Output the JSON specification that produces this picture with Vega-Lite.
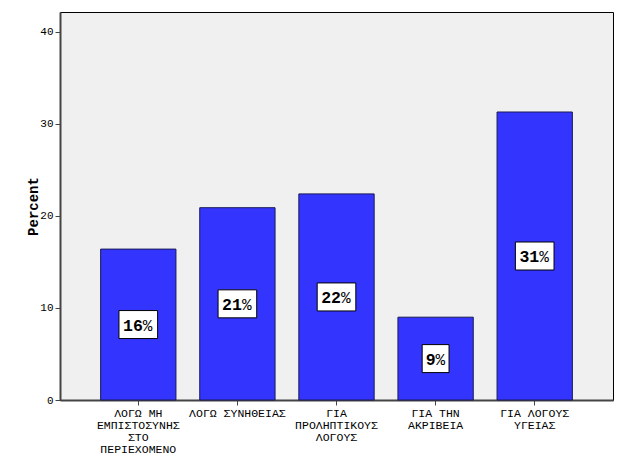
{
  "$schema": "https://vega.github.io/schema/vega-lite/v6.json",
  "width": 553,
  "height": 388,
  "autosize": {"type": "none"},
  "padding": {"left": 60, "top": 12, "right": 11, "bottom": 56},
  "background": "white",
  "config": {
    "view": {"fill": "#F0F0F0", "stroke": "#000000", "strokeWidth": 1},
    "axis": {"labelFont": "Liberation Mono", "titleFont": "Liberation Mono", "labelColor": "#000", "titleColor": "#000", "domainColor": "#444", "tickColor": "#444", "grid": false}
  },
  "data": {
    "values": [
      {"reason": "ΛΟΓΩ ΜΗ|ΕΜΠΙΣΤΟΣΥΝΗΣ|ΣΤΟ|ΠΕΡΙΕΧΟΜΕΝΟ", "percent": 16.4},
      {"reason": "ΛΟΓΩ ΣΥΝΗΘΕΙΑΣ", "percent": 20.9},
      {"reason": "ΓΙΑ|ΠΡΟΛΗΠΤΙΚΟΥΣ|ΛΟΓΟΥΣ", "percent": 22.4},
      {"reason": "ΓΙΑ ΤΗΝ|ΑΚΡΙΒΕΙΑ", "percent": 9.0},
      {"reason": "ΓΙΑ ΛΟΓΟΥΣ|ΥΓΕΙΑΣ", "percent": 31.3}
    ]
  },
  "transform": [{"calculate": "datum.percent / 2", "as": "mid"}],
  "encoding": {
    "x": {
      "field": "reason", "type": "nominal", "sort": null,
      "scale": {"paddingInner": 0.24, "paddingOuter": 0.41},
      "axis": {"title": null, "labelAngle": 0, "labelFontSize": 11.5, "labelLineHeight": 12, "labelExpr": "split(datum.label, '|')", "tickSize": 5, "labelPadding": 2, "labelBaseline": "top", "domainWidth": 2}
    }
  },
  "layer": [
    {
      "mark": {"type": "bar", "fill": "#3434FF", "stroke": "#1A1A55", "strokeWidth": 1},
      "encoding": {
        "y": {
          "field": "percent", "type": "quantitative",
          "scale": {"domain": [0, 42.17], "nice": false},
          "axis": {"title": "Percent", "titleFontWeight": "bold", "titleFontSize": 14, "values": [0, 10, 20, 30, 40], "labelFontSize": 11, "tickSize": 5, "titlePadding": -1, "domainWidth": 2}
        }
      }
    },
    {
      "mark": {"type": "point", "filled": true, "fill": "white", "stroke": "#000", "strokeWidth": 1, "opacity": 1, "size": 784},
      "encoding": {
        "y": {"field": "mid", "type": "quantitative", "scale": {"domain": [0, 42.17], "nice": false}},
        "shape": {"condition": {"test": "datum.percent < 10", "value": "M-0.96,-1H0.96V1H-0.96Z"}, "value": "M-1.38,-1H1.38V1H-1.38Z"}
      }
    },
    {
      "transform": [{"filter": "datum.percent >= 10"}],
      "layer": [
        {
          "mark": {"type": "text", "align": "right", "baseline": "middle", "dx": 4.5, "dy": 1, "font": "Liberation Mono", "fontWeight": "bold", "fontSize": 16.5, "fill": "#000"},
          "encoding": {
            "y": {"field": "mid", "type": "quantitative", "scale": {"domain": [0, 42.17], "nice": false}},
            "text": {"field": "percent", "type": "quantitative", "format": ".0f"}
          }
        },
        {
          "mark": {"type": "text", "align": "left", "baseline": "middle", "dx": 4.5, "dy": 1, "font": "Liberation Mono", "fontSize": 16, "fill": "#000", "text": "%"},
          "encoding": {
            "y": {"field": "mid", "type": "quantitative", "scale": {"domain": [0, 42.17], "nice": false}}
          }
        }
      ]
    },
    {
      "transform": [{"filter": "datum.percent < 10"}],
      "layer": [
        {
          "mark": {"type": "text", "align": "right", "baseline": "middle", "dx": 0, "dy": 1, "font": "Liberation Mono", "fontWeight": "bold", "fontSize": 16.5, "fill": "#000"},
          "encoding": {
            "y": {"field": "mid", "type": "quantitative", "scale": {"domain": [0, 42.17], "nice": false}},
            "text": {"field": "percent", "type": "quantitative", "format": ".0f"}
          }
        },
        {
          "mark": {"type": "text", "align": "left", "baseline": "middle", "dx": 0, "dy": 1, "font": "Liberation Mono", "fontSize": 16, "fill": "#000", "text": "%"},
          "encoding": {
            "y": {"field": "mid", "type": "quantitative", "scale": {"domain": [0, 42.17], "nice": false}}
          }
        }
      ]
    }
  ]
}
